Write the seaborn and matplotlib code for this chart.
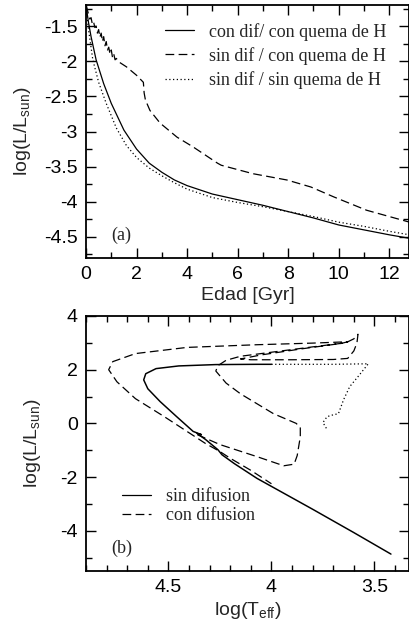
import numpy as np
import pandas as pd
import matplotlib
matplotlib.use("Agg")
import matplotlib.pyplot as plt
from matplotlib.ticker import MultipleLocator, FuncFormatter
import seaborn as sns

# ---------------- data: panel (a) ----------------
age_con_dif = [0.0, 0.05, 0.1, 0.2, 0.4, 0.7, 1.0, 1.5, 2.0, 2.5, 3.0, 3.5, 4.0,
               5.0, 6.0, 7.0, 8.0, 9.0, 10.0, 11.0, 12.0, 12.8]
lum_con_dif = [-1.2, -1.33, -1.45, -1.65, -1.98, -2.32, -2.6, -2.98, -3.25, -3.45, -3.58,
               -3.69, -3.77, -3.89, -3.97, -4.05, -4.14, -4.23, -4.33, -4.4, -4.47, -4.52]

age_sin_dif_H = [0.0, 0.1, 0.15, 0.2, 0.25, 0.3, 0.35, 0.4, 0.45, 0.5, 0.55, 0.6, 0.65, 0.7,
                 0.75, 0.8, 0.85, 0.9, 0.95, 1.0, 1.05, 1.1, 1.15, 1.2, 1.3, 1.6, 2.0, 2.27,
                 2.3, 2.35, 2.53, 2.93, 3.6, 4.24, 5.2, 5.35, 6.6, 7.95, 8.9, 9.8, 11.1, 12.8]
lum_sin_dif_H = [-1.2, -1.33, -1.40, -1.38, -1.47, -1.44, -1.52, -1.50, -1.60, -1.55, -1.66,
                 -1.60, -1.72, -1.65, -1.78, -1.72, -1.84, -1.80, -1.90, -1.84, -1.95, -1.90,
                 -1.98, -1.96, -2.01, -2.08, -2.2, -2.3, -2.45, -2.55, -2.7, -2.88, -3.08,
                 -3.22, -3.45, -3.48, -3.6, -3.69, -3.79, -3.93, -4.12, -4.29]

age_sin_dif_noH = [0.0, 0.05, 0.1, 0.27, 0.5, 0.8, 1.2, 1.6, 2.0, 2.5, 3.0, 3.5, 4.0, 5.0,
                   6.0, 7.0, 8.0, 9.0, 10.0, 11.0, 12.0, 12.8]
lum_sin_dif_noH = [-1.2, -1.4, -1.55, -1.98, -2.3, -2.6, -2.95, -3.2, -3.37, -3.52, -3.63,
                   -3.73, -3.82, -3.94, -4.01, -4.07, -4.14, -4.21, -4.29, -4.35, -4.42, -4.47]

labels_a = ["con dif/ con quema de H", "sin dif / con quema de H", "sin dif / sin quema de H"]

# ---------------- data: panel (b) ----------------
teff_sin = [4.0, 4.07, 4.27, 4.45, 4.56, 4.61, 4.62, 4.60, 4.54, 4.46, 4.38, 4.34, 4.36,
            4.32, 4.26, 4.24, 4.18, 4.07, 3.8, 3.6, 3.42]
lum_sin = [2.2, 2.2, 2.19, 2.14, 2.04, 1.85, 1.62, 1.29, 0.81, 0.25, -0.3, -0.42, -0.38,
           -0.6, -0.98, -1.17, -1.5, -2.05, -3.2, -4.07, -4.87]

teff_sin_tail = [4.0, 3.7, 3.53, 3.58, 3.62, 3.65, 3.675, 3.70, 3.73, 3.75, 3.73]
lum_sin_tail = [2.2, 2.2, 2.22, 1.74, 1.37, 0.88, 0.36, 0.32, 0.25, 0.03, -0.23]

teff_con = [4.36, 4.25, 4.07, 3.94, 3.89, 3.875, 3.86, 3.86, 3.88, 3.99, 4.15, 4.22, 4.27,
            4.26, 4.22, 4.15, 4.0, 3.8, 3.64, 3.6, 3.58, 3.585, 3.6, 3.63, 3.7, 3.9, 4.1,
            4.15, 4.05, 3.85, 3.66, 3.63, 3.8, 4.07, 4.41, 4.66, 4.77, 4.79, 4.75, 4.66,
            4.52, 4.41, 4.32, 4.25, 4.2, 4.1, 4.0]
lum_con = [-0.42, -0.79, -1.24, -1.58, -1.52, -1.2, -0.5, -0.15, 0.0, 0.36, 1.1, 1.5, 1.95,
           2.15, 2.35, 2.5, 2.65, 2.85, 3.0, 3.15, 3.32, 3.0, 2.7, 2.42, 2.38, 2.37, 2.37,
           2.4, 2.55, 2.78, 2.98, 3.04, 2.99, 2.93, 2.83, 2.6, 2.3, 2.0, 1.55, 0.92,
           0.25, -0.3, -0.75, -1.05, -1.3, -1.75, -2.25]

labels_b = ["sin difusion", "con difusion"]

# ---------------- style ----------------
sns.set_style("ticks")
plt.rcParams["font.family"] = ["Liberation Sans", "DejaVu Sans"]
plt.rcParams["mathtext.fontset"] = "custom"
plt.rcParams["mathtext.rm"] = "Liberation Sans"
plt.rcParams["mathtext.it"] = "Liberation Sans:italic"
plt.rcParams["axes.unicode_minus"] = False
plt.rcParams.update({
    "xtick.direction": "in", "ytick.direction": "in",
    "xtick.top": True, "ytick.right": True,
    "xtick.bottom": True, "ytick.left": True,
    "xtick.major.size": 7, "ytick.major.size": 7,
    "xtick.minor.size": 4, "ytick.minor.size": 4,
    "xtick.major.width": 1.0, "ytick.major.width": 1.0,
    "xtick.minor.width": 1.0, "ytick.minor.width": 1.0,
    "xtick.minor.visible": True, "ytick.minor.visible": True,
    "xtick.color": "black", "ytick.color": "black",
    "axes.edgecolor": "black", "axes.linewidth": 1.3,
})

fig = plt.figure(figsize=(4.10, 6.22), dpi=100)
ax1 = fig.add_axes([86 / 410, 1 - 258 / 622, 323.5 / 410, 253 / 622])
ax2 = fig.add_axes([86 / 410, 1 - 571 / 622, 323.5 / 410, 255 / 622])

lw = 0.9
dash = (7, 3.5)

def fmt(v, pos):
    return f"{v:g}"

def style_axes(ax):
    for sp in ax.spines.values():
        sp.set_linewidth(1.3)
        sp.set_color("black")
        sp.set_visible(True)
    ax.tick_params(which="both", direction="in", top=True, right=True,
                   bottom=True, left=True, labelsize=14, color="black", width=1.0, pad=6)
    ax.tick_params(which="major", length=7)
    ax.tick_params(which="minor", length=4)
    ax.xaxis.set_major_formatter(FuncFormatter(fmt))
    ax.yaxis.set_major_formatter(FuncFormatter(fmt))

# ---- panel (a)
df_a1 = pd.DataFrame({"x": age_con_dif, "y": lum_con_dif})
df_a2 = pd.DataFrame({"x": age_sin_dif_H, "y": lum_sin_dif_H})
df_a3 = pd.DataFrame({"x": age_sin_dif_noH, "y": lum_sin_dif_noH})
sns.lineplot(data=df_a1, x="x", y="y", ax=ax1, sort=False, estimator=None,
             color="black", lw=lw, label=labels_a[0])
sns.lineplot(data=df_a2, x="x", y="y", ax=ax1, sort=False, estimator=None,
             color="black", lw=lw, label=labels_a[1]).lines[-1].set_dashes(dash)
sns.lineplot(data=df_a3, x="x", y="y", ax=ax1, sort=False, estimator=None,
             color="black", lw=lw, label=labels_a[2]).lines[-1].set_linestyle((0, (1, 2)))
ax1.set_xlim(0, 12.8)
ax1.set_ylim(-4.8, -1.2)
ax1.xaxis.set_major_locator(MultipleLocator(2))
ax1.xaxis.set_minor_locator(MultipleLocator(1))
ax1.yaxis.set_major_locator(MultipleLocator(0.5))
ax1.yaxis.set_minor_locator(MultipleLocator(0.25))
style_axes(ax1)
ax1.set_xlabel("Edad [Gyr]", fontsize=14)
ax1.set_ylabel(r"log(L/L$_{\rm sun}$)", fontsize=14)
ax1.yaxis.set_label_coords(-0.165, 0.5)
ax1.xaxis.set_label_coords(0.5, -0.115)
leg = ax1.legend(loc="upper left", bbox_to_anchor=(0.245, 0.93), frameon=False,
                 prop={"family": "Liberation Serif", "size": 13}, handlelength=1.6,
                 handletextpad=0.8, labelspacing=0.35, borderpad=0, borderaxespad=0)
for h in leg.get_lines():
    h.set_linewidth(lw)
ax1.text(0.108, 0.09, "(a)", transform=ax1.transAxes, fontsize=13,
         family="Liberation Serif", ha="center", va="center")

# ---- panel (b)
df_b1 = pd.DataFrame({"x": teff_sin, "y": lum_sin})
df_b2 = pd.DataFrame({"x": teff_con, "y": lum_con})
df_b3 = pd.DataFrame({"x": teff_sin_tail, "y": lum_sin_tail})
sns.lineplot(data=df_b3, x="x", y="y", ax=ax2, sort=False, estimator=None,
             color="black", lw=lw).lines[-1].set_linestyle((0, (1, 2)))
sns.lineplot(data=df_b1, x="x", y="y", ax=ax2, sort=False, estimator=None,
             color="black", lw=lw * 1.2, label=labels_b[0])
sns.lineplot(data=df_b2, x="x", y="y", ax=ax2, sort=False, estimator=None,
             color="black", lw=lw, label=labels_b[1]).lines[-1].set_dashes(dash)
ax2.set_xlim(4.9, 3.33)
ax2.set_ylim(-5.5, 4)
ax2.xaxis.set_major_locator(MultipleLocator(0.5))
ax2.xaxis.set_minor_locator(MultipleLocator(0.1))
ax2.yaxis.set_major_locator(MultipleLocator(2))
ax2.yaxis.set_minor_locator(MultipleLocator(1))
style_axes(ax2)
ax2.set_xlabel(r"log(T$_{\rm eff}$)", fontsize=14)
ax2.set_ylabel(r"log(L/L$_{\rm sun}$)", fontsize=14)
ax2.yaxis.set_label_coords(-0.133, 0.5)
ax2.xaxis.set_label_coords(0.5, -0.115)
leg2 = ax2.legend(loc="upper left", bbox_to_anchor=(0.112, 0.325), frameon=False,
                  prop={"family": "Liberation Serif", "size": 13}, handlelength=1.6,
                  handletextpad=0.8, labelspacing=0.1, borderpad=0, borderaxespad=0)
for h in leg2.get_lines():
    h.set_linewidth(lw)
ax2.text(0.111, 0.09, "(b)", transform=ax2.transAxes, fontsize=13,
         family="Liberation Serif", ha="center", va="center")

fig.savefig("out.png", dpi=100)
